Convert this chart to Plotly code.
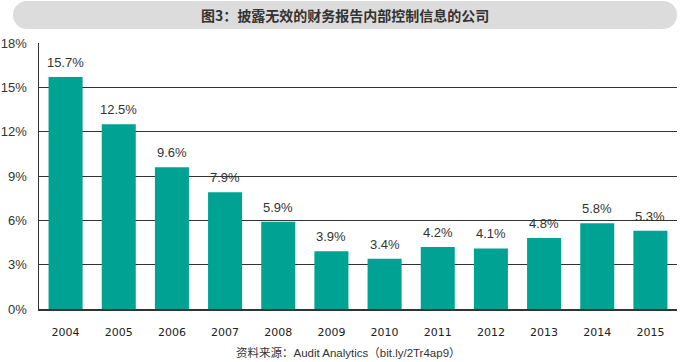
import plotly.graph_objects as go

years = ["2004", "2005", "2006", "2007", "2008", "2009", "2010", "2011", "2012", "2013", "2014", "2015"]
values = [15.7, 12.5, 9.6, 7.9, 5.9, 3.9, 3.4, 4.2, 4.1, 4.8, 5.8, 5.3]
labels = ["15.7%", "12.5%", "9.6%", "7.9%", "5.9%", "3.9%", "3.4%", "4.2%", "4.1%", "4.8%", "5.8%", "5.3%"]
y_ticks = [0, 3, 6, 9, 12, 15, 18]
y_tick_text = ["0%", "3%", "6%", "9%", "12%", "15%", "18%"]
title_text = "图3：披露无效的财务报告内部控制信息的公司"
source_text = "资料来源：Audit Analytics（bit.ly/2Tr4ap9）"

W, H = 693, 362
L, R, T, B = 39, 16, 43, 53
pw, ph = W - L - R, H - T - B

def px_x(x):
    return (x - L) / pw

def px_y(y):
    return (H - B - y) / ph

TEAL = "#00a294"
GRAY = "#dcdcdc"
LINE = "#333333"
FONT = "Liberation Sans, Arial, Noto Sans CJK SC, sans-serif"

fig = go.Figure()
fig.add_trace(go.Bar(
    x=years, y=values, marker=dict(color=TEAL, line=dict(width=0)),
    hoverinfo="skip",
))

annotations = []
for i, (v, lab) in enumerate(zip(values, labels)):
    annotations.append(dict(
        x=i, y=v, xref="x", yref="y", text=lab, showarrow=False,
        yanchor="bottom", yshift=5,
        font=dict(family=FONT, size=13, color="#333333"),
    ))

# title pill
x0, x1, y0, y1 = 13, 677, 1, 29
r = (y1 - y0) / 2
shapes = [
    dict(type="rect", xref="paper", yref="paper",
         x0=px_x(x0 + r), x1=px_x(x1 - r), y0=px_y(y1), y1=px_y(y0),
         fillcolor=GRAY, line=dict(width=0), layer="below"),
    dict(type="circle", xref="paper", yref="paper",
         x0=px_x(x0), x1=px_x(x0 + 2 * r), y0=px_y(y1), y1=px_y(y0),
         fillcolor=GRAY, line=dict(width=0), layer="below"),
    dict(type="circle", xref="paper", yref="paper",
         x0=px_x(x1 - 2 * r), x1=px_x(x1), y0=px_y(y1), y1=px_y(y0),
         fillcolor=GRAY, line=dict(width=0), layer="below"),
]

annotations.append(dict(
    x=px_x((x0 + x1) / 2), y=px_y(15), xref="paper", yref="paper",
    text="<b>" + title_text + "</b>", showarrow=False,
    xanchor="center", yanchor="middle",
    font=dict(family="Noto Sans CJK SC, sans-serif", size=14, color="#333333"),
))
annotations.append(dict(
    x=px_x(348), y=px_y(352), xref="paper", yref="paper",
    text=source_text, showarrow=False, xanchor="center", yanchor="middle",
    font=dict(family=FONT, size=11.5, color="#333333"),
))

fig.update_layout(
    width=W, height=H,
    margin=dict(l=L, r=R, t=T, b=B, pad=0, autoexpand=False),
    paper_bgcolor="white", plot_bgcolor="white",
    showlegend=False, bargap=0.36,
    shapes=shapes, annotations=annotations,
    xaxis=dict(
        type="category", automargin=False, range=[-0.5, len(years) - 0.5],
        showgrid=False, showline=True, linecolor=LINE, linewidth=2,
        ticks="", ticklabelstandoff=12,
        tickfont=dict(family="DejaVu Sans, sans-serif", size=11, color="#222222"),
        fixedrange=True,
    ),
    yaxis=dict(
        automargin=False,
        range=[0, 18], tickvals=y_ticks, ticktext=y_tick_text,
        showgrid=True, gridcolor=LINE, gridwidth=1,
        showline=True, linecolor=LINE, linewidth=1.5,
        zeroline=False, ticks="", ticklabelstandoff=8,
        tickfont=dict(family=FONT, size=13, color="#333333"),
        fixedrange=True,
    ),
)

fig.write_html(
    "out.html",
    config={"displayModeBar": False, "staticPlot": True},
    post_script="document.body.style.margin='0';document.body.style.overflow='hidden';",
)
